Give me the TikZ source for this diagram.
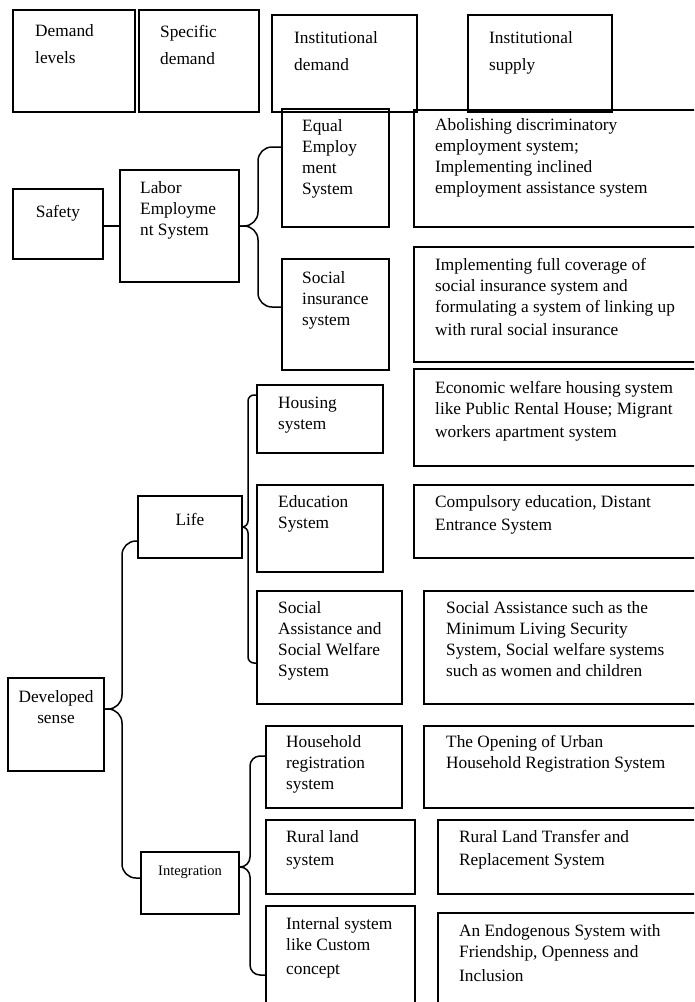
\documentclass[tikz,border=0pt]{standalone}
\usepackage{fontspec}
\setmainfont{Liberation Serif}
\usetikzlibrary{calc}
\newcommand\mkbox[5]{\node[boxst, minimum width=#4pt, minimum height=#5pt] (#1) at (#2,#3) {};}
\begin{document}
\begin{tikzpicture}[x=1pt,y=-1pt,
  boxst/.style={draw, line width=1.8pt, inner sep=0pt, outer sep=0pt, anchor=north west},
  txt/.style={anchor=north west, inner sep=0pt, align=left, font=\fontsize{17.3}{21}\selectfont, execute at begin node=\strut},
  htxt/.style={txt, font=\fontsize{17.3}{27}\selectfont},
  ctxt/.style={anchor=center, inner sep=0pt, align=center, font=\fontsize{17.3}{21}\selectfont},
  bracest/.style={draw, line width=1.5pt, rounded corners=#1},
]
\useasboundingbox (0,0) rectangle (694,1002);
\clip (0,0) rectangle (694,1002);

% header
\mkbox{h1}{13}{10}{122}{102}
\mkbox{h2}{139}{10}{120}{102}
\mkbox{h3}{272}{15}{145}{97}
\mkbox{h4}{468}{15}{144}{97}
\node[htxt] (th1) at (35,24) {Demand\\levels};
\node[htxt] (th2) at (160,25) {Specific\\demand};
\node[htxt] (th3) at (294,31) {Institutional\\demand};
\node[htxt] (th4) at (489,31) {Institutional\\supply};

% safety
\mkbox{safety}{13}{189}{90}{70}
\mkbox{labor}{120}{170}{119}{112}
\mkbox{eq}{282}{109}{107}{118}
\mkbox{socins}{282}{259}{107}{111}
\mkbox{sup1}{414}{110}{300}{117}
\mkbox{sup2}{414}{247}{300}{115}
\node[ctxt] (tsafety) at (58,213) {Safety};
\node[txt] (tlabor) at (140,181) {Labor\\Employme\\nt System};
\node[txt] (teq) at (302,119) {Equal\\Employ\\ment\\System};
\node[txt] (tsocins) at (302,271) {Social\\insurance\\system};
\node[txt] (tsup1) at (435,118) {Abolishing discriminatory\\employment system;\\Implementing inclined\\employment assistance system};
\node[txt] (tsup2) at (435,258) {Implementing full coverage of\\social insurance system and\\formulating a system of linking up\\[2pt]with rural social insurance};

% life
\mkbox{life}{138}{496}{104}{62}
\mkbox{housing}{257}{385}{126}{68}
\mkbox{educ}{257}{485}{126}{87}
\mkbox{socas}{257}{591}{145}{113}
\mkbox{econ}{414}{369}{300}{97}
\mkbox{comp}{414}{485}{300}{73}
\mkbox{socassup}{424}{591}{300}{113}
\node[ctxt] (tlife) at (190,519) {Life};
\node[txt] (thousing) at (278,397) {Housing\\system};
\node[txt] (teduc) at (278,495) {Education\\System};
\node[txt] (tsocas) at (278,601) {Social\\Assistance and\\Social Welfare\\System};
\node[txt] (tecon) at (435,381) {Economic welfare housing system\\like Public Rental House; Migrant\\[2pt]workers apartment system};
\node[txt] (tcomp) at (435,495) {Compulsory education, Distant\\[2pt]Entrance System};
\node[txt] (tsocassup) at (446,601) {Social Assistance such as the\\Minimum Living Security\\System, Social welfare systems\\such as women and children};

% developed sense / integration
\mkbox{dev}{8}{678}{96}{93}
\mkbox{integ}{141}{852}{98}{62}
\mkbox{house}{266}{726}{136}{82}
\mkbox{rland}{266}{820}{149}{74}
\mkbox{intern}{266}{906}{149}{120}
\mkbox{open}{424}{726}{300}{82}
\mkbox{rlandsup}{438}{820}{300}{74}
\mkbox{endog}{438}{913}{300}{120}
\node[txt, anchor=north, align=center] (tdev) at (56,690) {Developed\\sense};
\node[ctxt, font=\fontsize{14.5}{18}\selectfont] (tinteg) at (190,872) {Integration};
\node[txt] (thouse) at (286,735) {Household\\registration\\system};
\node[txt] (trland) at (286,830) {Rural land\\[2pt]system};
\node[txt] (tintern) at (286,917) {Internal system\\like Custom\\[3pt]concept};
\node[txt] (topen) at (446,735) {The Opening of Urban\\Household Registration System};
\node[txt] (trlandsup) at (459,830) {Rural Land Transfer and\\[2pt]Replacement System};
\node[txt] (tendog) at (459,924) {An Endogenous System with\\Friendship, Openness and\\[3pt]Inclusion};

% connectors
\draw[line width=1.5pt] (labor.west) -- (labor.west -| safety.east);

\coordinate (lbT) at ($(eq.north west)+(0,38)$);
\coordinate (lbB) at ($(socins.north west)+(0,48)$);
\draw[bracest=14] (labor.east) -- ($(labor.east)+(19,0)$) |- (lbT);
\draw[bracest=14] (labor.east) -- ($(labor.east)+(19,0)$) |- (lbB);

\coordinate (lfT) at ($(housing.north west)+(0,10)$);
\coordinate (lfB) at ($(socas.north west)+(0,72)$);
\draw[bracest=6] (life.east) -- ($(life.east)+(6,0)$) |- (lfT);
\draw[bracest=6] (life.east) -- ($(life.east)+(6,0)$) |- (lfB);

\coordinate (dvP) at ($(dev.north east)+(0,31)$);
\coordinate (dvT) at ($(life.north west)+(0,45)$);
\coordinate (dvB) at ($(integ.north west)+(0,26)$);
\draw[bracest=14] (dvP) -- ($(dvP)+(18,0)$) |- (dvT);
\draw[bracest=14] (dvP) -- ($(dvP)+(18,0)$) |- (dvB);

\coordinate (igP) at ($(integ.north east)+(0,15)$);
\coordinate (igT) at ($(house.north west)+(0,30)$);
\coordinate (igB) at ($(intern.north west)+(0,69)$);
\draw[bracest=10] (igP) -- ($(igP)+(11,0)$) |- (igT);
\draw[bracest=10] (igP) -- ($(igP)+(11,0)$) |- (igB);
\end{tikzpicture}
\end{document}
